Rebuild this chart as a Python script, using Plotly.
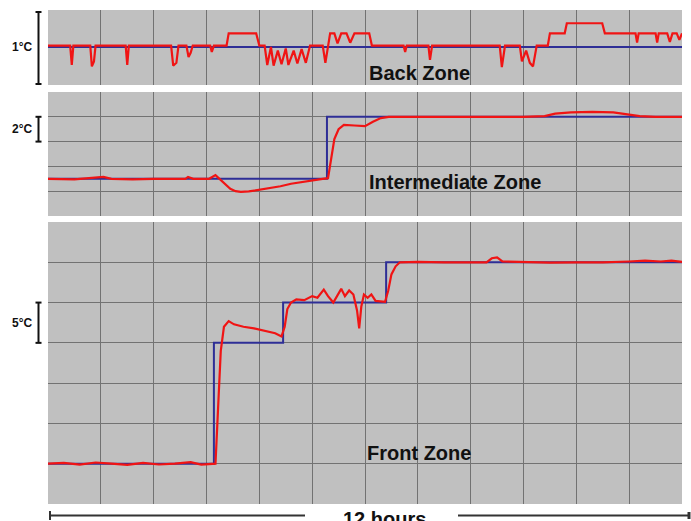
import plotly.graph_objects as go

W, H = 691, 521

# ---------------- data (hours, °C relative) ----------------
# Back zone (deviation from set point, °C)
back_set_h = [0, 12]
back_set_v = [0.0, 0.0]
back_h = [0, 0.42, 0.45, 0.48, 0.80, 0.83, 0.87, 0.90, 1.47, 1.50, 1.53, 2.33, 2.37, 2.43, 2.47,
          2.62, 2.66, 2.70, 2.74, 3.07, 3.10, 3.14, 3.38, 3.42, 3.94, 4.00, 4.10, 4.15, 4.22, 4.27,
          4.35, 4.42, 4.50, 4.55, 4.65, 4.72, 4.80, 4.88, 4.96, 5.20, 5.25, 5.30, 5.34, 5.42, 5.48,
          5.55, 5.65, 5.72, 5.80, 6.08, 6.13, 6.73, 6.76, 6.79, 7.20, 7.23, 7.27, 8.55, 8.59, 8.65,
          8.93, 8.97, 9.05, 9.12, 9.18, 9.25, 9.46, 9.50, 9.78, 9.82, 10.49, 10.54, 11.12, 11.15,
          11.18, 11.50, 11.53, 11.56, 11.72, 11.77, 11.82, 11.90, 11.95, 12.0]
back_v = [0.02, 0.02, -0.25, 0.02, 0.02, -0.27, -0.20, 0.02, 0.02, -0.25, 0.02, 0.02, -0.26, -0.22, 0.02,
          0.02, -0.14, -0.08, 0.02, 0.02, -0.07, 0.02, 0.02, 0.19, 0.19, 0.02, 0.02, -0.25, 0.00, -0.26,
          -0.05, -0.24, -0.02, -0.25, -0.05, -0.23, -0.03, -0.22, 0.02, 0.02, -0.22, 0.05, 0.19, 0.19, 0.05,
          0.19, 0.19, 0.06, 0.19, 0.19, 0.02, 0.02, -0.07, 0.02, 0.02, -0.18, 0.02, 0.02, -0.28, 0.02,
          0.02, -0.20, -0.05, -0.22, -0.27, 0.02, 0.02, 0.19, 0.19, 0.33, 0.33, 0.19, 0.19, 0.06,
          0.19, 0.19, 0.06, 0.19, 0.19, 0.07, 0.19, 0.19, 0.10, 0.19]

# Intermediate zone
int_set_h = [0, 5.28, 5.28, 12]
int_set_v = [3.0, 3.0, 8.0, 8.0]
int_h = [0, 0.5, 1.05, 1.2, 1.6, 2.0, 2.6, 2.65, 2.75, 3.05, 3.17, 3.25, 3.35, 3.45, 3.55, 3.65,
         3.8, 4.0, 4.2, 4.4, 4.6, 4.8, 5.0, 5.2, 5.3, 5.36, 5.42, 5.5, 5.6, 5.8, 6.0, 6.15, 6.3,
         6.45, 7.0, 7.5, 8.0, 8.5, 9.0, 9.4, 9.6, 9.9, 10.3, 10.7, 11.0, 11.2, 11.5, 12.0]
int_v = [3.0, 2.95, 3.15, 3.0, 2.95, 3.0, 3.0, 3.15, 3.0, 3.0, 3.3, 3.0, 2.6, 2.2, 2.0, 1.95,
         1.98, 2.1, 2.25, 2.4, 2.6, 2.75, 2.9, 3.0, 3.05, 4.5, 6.2, 7.0, 7.35, 7.3, 7.25, 7.6, 7.9,
         8.0, 8.0, 7.95, 8.0, 8.0, 8.0, 8.05, 8.25, 8.35, 8.4, 8.35, 8.2, 8.05, 8.0, 8.0]

# Front zone
front_set_h = [0, 3.14, 3.14, 4.45, 4.45, 6.40, 6.40, 12]
front_set_v = [5, 5, 20, 20, 25, 25, 30, 30]
front_h = [0, 0.3, 0.6, 0.9, 1.2, 1.5, 1.8, 2.1, 2.4, 2.7, 2.9, 3.1, 3.17, 3.22, 3.27, 3.33, 3.42,
           3.52, 3.7, 3.9, 4.1, 4.3, 4.42, 4.48, 4.53, 4.6, 4.7, 4.85, 5.0, 5.1, 5.22, 5.3, 5.4,
           5.48, 5.55, 5.62, 5.7, 5.78, 5.85, 5.89, 5.93, 5.98, 6.05, 6.12, 6.2, 6.38, 6.44, 6.5,
           6.58, 6.66, 7.0, 7.5, 8.3, 8.4, 8.5, 8.6, 9.0, 9.5, 10.0, 10.5, 11.0, 11.3, 11.6, 11.8, 12.0]
front_v = [5.0, 5.1, 4.9, 5.15, 5.0, 4.85, 5.1, 4.9, 5.0, 5.2, 4.9, 5.0, 5.0, 12.0, 19.0, 22.0, 22.7,
           22.3, 22.0, 21.8, 21.5, 21.2, 20.8, 22.0, 24.2, 25.0, 25.4, 25.3, 25.8, 25.6, 26.6, 25.8, 25.0,
           26.0, 26.7, 25.8, 26.5, 26.0, 24.0, 21.8, 24.5, 26.0, 25.6, 26.0, 25.2, 25.1, 26.5, 28.5,
           29.5, 30.0, 30.05, 30.0, 30.0, 30.5, 30.6, 30.1, 30.0, 29.95, 30.0, 30.0, 30.1, 30.2, 30.1, 30.2, 30.05]

zone_labels = ["Back Zone", "Intermediate Zone", "Front Zone"]
scale_labels = ["1°C", "2°C", "5°C"]
duration_label = "12 hours"

# ---------------- styling ----------------
BG = "#c0c0c0"
GRID = "#727272"
BLUE = "#2e2e96"
RED = "#f01414"
FONT = "Liberation Sans, Arial, sans-serif"

def px_x(p):
    return p / W

def px_y(p):
    return 1 - p / H

fig = go.Figure()

panels = [
    ("x", "y", back_set_h, back_set_v, back_h, back_v),
    ("x2", "y2", int_set_h, int_set_v, int_h, int_v),
    ("x3", "y3", front_set_h, front_set_v, front_h, front_v),
]
for xa, ya, sh, sv, rh, rv in panels:
    fig.add_trace(go.Scatter(x=sh, y=sv, mode="lines", xaxis=xa, yaxis=ya,
                             line=dict(color=BLUE, width=2), hoverinfo="skip"))
    fig.add_trace(go.Scatter(x=rh, y=rv, mode="lines", xaxis=xa, yaxis=ya,
                             line=dict(color=RED, width=2.2), hoverinfo="skip"))

xdom = [px_x(48), px_x(682)]
xcommon = dict(range=[0, 12], dtick=1, tick0=0, showgrid=True, gridcolor=GRID, gridwidth=1,
               showticklabels=False, ticks="", zeroline=False, showline=False, domain=xdom)

fig.update_layout(
    width=W, height=H, margin=dict(l=0, r=0, t=0, b=0),
    paper_bgcolor="white", plot_bgcolor=BG, showlegend=False,
    xaxis=dict(**xcommon, anchor="y"),
    xaxis2=dict(**xcommon, anchor="y2"),
    xaxis3=dict(**xcommon, anchor="y3"),
    yaxis=dict(domain=[px_y(85), px_y(10)], range=[-0.528, 0.514], showgrid=False,
               showticklabels=False, ticks="", zeroline=False, anchor="x"),
    yaxis2=dict(domain=[px_y(216), px_y(92)], range=[0, 10], dtick=2, tick0=0, showgrid=True,
                gridcolor=GRID, showticklabels=False, ticks="", zeroline=False, anchor="x2"),
    yaxis3=dict(domain=[px_y(504), px_y(222)], range=[0, 35], dtick=5, tick0=0, showgrid=True,
                gridcolor=GRID, showticklabels=False, ticks="", zeroline=False, anchor="x3"),
)

# scale bars
bars = [("y", -0.514, 0.486, 0.0), ("y2", 6, 8, 7), ("y3", 20, 25, 22.5)]
for (yr, y0, y1, ym), lab in zip(bars, scale_labels):
    fig.add_shape(type="line", xref="paper", yref=yr, x0=px_x(38.5), x1=px_x(38.5), y0=y0, y1=y1,
                  line=dict(color="#111111", width=2))
    for yy in (y0, y1):
        fig.add_shape(type="line", xref="paper", yref=yr, x0=px_x(35.5), x1=px_x(41.5), y0=yy, y1=yy,
                      line=dict(color="#111111", width=2))
    fig.add_annotation(text=f"<b>{lab}</b>", xref="paper", yref=yr, x=px_x(33.5), y=ym,
                       xanchor="right", yanchor="middle", showarrow=False,
                       font=dict(family=FONT, size=12, color="#111111"))

# zone labels
zone_pos = [("x", "y", 6.04, -0.36), ("x2", "y2", 6.04, 2.74), ("x3", "y3", 6.0, 6.3)]
for (xr, yr, xx, yy), lab in zip(zone_pos, zone_labels):
    fig.add_annotation(text=f"<b>{lab}</b>", xref=xr, yref=yr, x=xx, y=yy, xanchor="left",
                       yanchor="middle", showarrow=False,
                       font=dict(family=FONT, size=20, color="#111111"))

# duration arrow
AR = "#333333"
fig.add_shape(type="line", xref="paper", yref="paper", x0=px_x(50), x1=px_x(305), y0=px_y(515.5), y1=px_y(515.5),
              line=dict(color=AR, width=2))
fig.add_shape(type="line", xref="paper", yref="paper", x0=px_x(50), x1=px_x(50), y0=px_y(511), y1=px_y(520),
              line=dict(color=AR, width=2))
fig.add_shape(type="line", xref="paper", yref="paper", x0=px_x(458), x1=px_x(689), y0=px_y(515.5), y1=px_y(515.5),
              line=dict(color=AR, width=2))
fig.add_shape(type="line", xref="paper", yref="paper", x0=px_x(689), x1=px_x(689), y0=px_y(512), y1=px_y(519),
              line=dict(color=AR, width=3))
fig.add_annotation(text=f"<b>{duration_label}</b>", xref="paper", yref="paper", x=px_x(384), y=px_y(506),
                   xanchor="center", yanchor="top", showarrow=False,
                   font=dict(family=FONT, size=20, color="#111111"))

fig.write_html("out.html", config={"displayModeBar": False, "staticPlot": True},
               post_script="document.body.style.margin='0px';document.body.style.overflow='hidden';")
